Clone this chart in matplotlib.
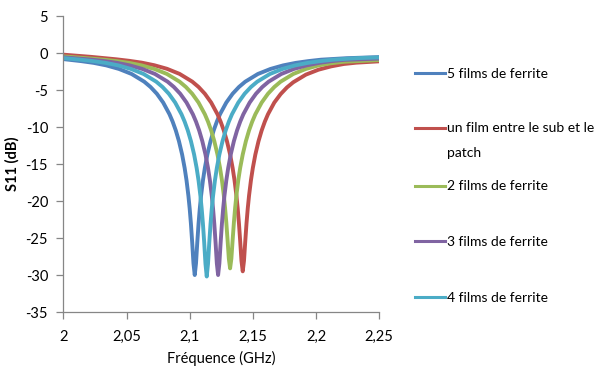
import matplotlib
matplotlib.use("Agg")
import matplotlib.pyplot as plt
from matplotlib.lines import Line2D

plt.rcParams['axes.unicode_minus'] = False
plt.rcParams['font.family'] = ['Lato', 'DejaVu Sans']

# series (frequency in GHz, S11 in dB)
f_5films = [2.000, 2.014, 2.024, 2.034, 2.044, 2.054, 2.064, 2.069, 2.074, 2.079, 2.084, 2.0865,
            2.089, 2.0915, 2.094, 2.096, 2.0975, 2.099, 2.100, 2.101, 2.102, 2.103, 2.104,
            2.105, 2.106, 2.107, 2.108, 2.109, 2.1105, 2.112, 2.114, 2.1165, 2.119, 2.1215,
            2.124, 2.129, 2.134, 2.139, 2.144, 2.154, 2.164, 2.174, 2.184, 2.194, 2.204, 2.224, 2.250]
s_5films = [-0.82, -1.09, -1.33, -1.67, -2.15, -2.83, -3.87, -4.59, -5.50, -6.69, -8.27, -9.27,
            -10.46, -11.91, -13.71, -15.53, -17.21, -19.31, -21.03, -23.11, -25.63, -28.43, -30.0,
            -28.43, -25.63, -23.11, -21.03, -19.31, -17.21, -15.53, -13.71, -11.91, -10.46, -9.27,
            -8.27, -6.69, -5.50, -4.59, -3.87, -2.83, -2.15, -1.67, -1.33, -1.09, -0.90, -0.70, -0.55]

f_1film = [2.000, 2.022, 2.042, 2.052, 2.062, 2.072, 2.082, 2.092, 2.102, 2.107, 2.112, 2.117,
           2.122, 2.1245, 2.127, 2.1295, 2.132, 2.134, 2.1355, 2.137, 2.138, 2.139, 2.140, 2.141,
           2.142, 2.143, 2.144, 2.145, 2.146, 2.147, 2.1485, 2.150, 2.152, 2.1545, 2.157, 2.1595,
           2.162, 2.167, 2.172, 2.177, 2.182, 2.192, 2.202, 2.212, 2.222, 2.232, 2.250]
s_1film = [-0.22, -0.52, -0.85, -1.05, -1.30, -1.65, -2.13, -2.82, -3.86, -4.58, -5.50, -6.69,
           -8.27, -9.27, -10.46, -11.91, -13.71, -15.53, -17.2, -19.27, -20.96, -23.0, -25.45, -28.08,
           -29.5, -28.08, -25.45, -23.0, -20.96, -19.27, -17.2, -15.53, -13.71, -11.91, -10.46, -9.27,
           -8.27, -6.69, -5.55, -4.65, -3.95, -2.92, -2.25, -1.80, -1.48, -1.30, -1.12]

f_2films = [2.000, 2.022, 2.032, 2.042, 2.052, 2.062, 2.072, 2.082, 2.092, 2.097, 2.102, 2.107,
            2.112, 2.1145, 2.117, 2.1195, 2.122, 2.124, 2.1255, 2.127, 2.128, 2.129, 2.130, 2.131,
            2.132, 2.133, 2.134, 2.135, 2.136, 2.137, 2.1385, 2.140, 2.142, 2.1445, 2.147, 2.1495,
            2.152, 2.157, 2.162, 2.167, 2.172, 2.182, 2.192, 2.202, 2.212, 2.222, 2.250]
s_2films = [-0.45, -0.75, -0.90, -1.09, -1.33, -1.67, -2.15, -2.83, -3.87, -4.59, -5.50, -6.69,
            -8.27, -9.27, -10.46, -11.91, -13.71, -15.5, -17.15, -19.22, -20.91, -22.91, -25.29, -27.79,
            -29.1, -27.79, -25.29, -22.91, -20.91, -19.22, -17.15, -15.5, -13.71, -11.91, -10.46, -9.27,
            -8.27, -6.69, -5.50, -4.59, -3.87, -2.83, -2.15, -1.67, -1.38, -1.18, -0.95]

f_3films = [2.000, 2.0225, 2.0325, 2.0425, 2.0525, 2.0625, 2.0725, 2.0825, 2.0875, 2.0925, 2.0975,
            2.1025, 2.105, 2.1075, 2.110, 2.1125, 2.1145, 2.116, 2.1175, 2.1185, 2.1195, 2.1205,
            2.1215, 2.1225, 2.1235, 2.1245, 2.1255, 2.1265, 2.1275, 2.129, 2.1305, 2.1325, 2.135,
            2.1375, 2.140, 2.1425, 2.1475, 2.1525, 2.1575, 2.1625, 2.1725, 2.1825, 2.1925, 2.2025,
            2.2125, 2.2225, 2.250]
s_3films = [-0.58, -0.90, -1.09, -1.33, -1.67, -2.15, -2.83, -3.87, -4.59, -5.50, -6.69,
            -8.27, -9.27, -10.46, -11.91, -13.71, -15.53, -17.21, -19.31, -21.03, -23.11, -25.63,
            -28.43, -30.0, -28.43, -25.63, -23.11, -21.03, -19.31, -17.21, -15.53, -13.71, -11.91,
            -10.46, -9.27, -8.27, -6.69, -5.50, -4.59, -3.87, -2.83, -2.15, -1.67, -1.33,
            -1.09, -0.92, -0.75]

f_4films = [2.000, 2.0135, 2.0235, 2.0335, 2.0435, 2.0535, 2.0635, 2.0735, 2.0785, 2.0835, 2.0885,
            2.0935, 2.096, 2.0985, 2.101, 2.1035, 2.1055, 2.107, 2.1085, 2.1095, 2.1105, 2.1115,
            2.1125, 2.1135, 2.1145, 2.1155, 2.1165, 2.1175, 2.1185, 2.120, 2.1215, 2.1235, 2.126,
            2.1285, 2.131, 2.1335, 2.1385, 2.1435, 2.1485, 2.1535, 2.1635, 2.1735, 2.1835, 2.1935,
            2.2035, 2.2135, 2.2335, 2.250]
s_4films = [-0.68, -0.90, -1.09, -1.33, -1.67, -2.15, -2.83, -3.87, -4.59, -5.50, -6.69,
            -8.27, -9.27, -10.46, -11.91, -13.71, -15.53, -17.21, -19.31, -21.03, -23.11, -25.63,
            -28.5, -30.2, -28.5, -25.63, -23.11, -21.03, -19.31, -17.21, -15.53, -13.71, -11.91,
            -10.46, -9.27, -8.27, -6.69, -5.50, -4.59, -3.87, -2.83, -2.15, -1.67, -1.33,
            -1.09, -0.90, -0.68, -0.60]

labels = ["5 films de ferrite", "un film entre le sub et le\npatch", "2 films de ferrite",
          "3 films de ferrite", "4 films de ferrite"]
colors = ["#4F81BD", "#C0504D", "#9BBB59", "#8064A2", "#4BACC6"]
series = [(f_5films, s_5films), (f_1film, s_1film), (f_2films, s_2films),
          (f_3films, s_3films), (f_4films, s_4films)]

x_ticks = [2.0, 2.05, 2.1, 2.15, 2.2, 2.25]
x_ticklabels = ["2", "2,05", "2,1", "2,15", "2,2", "2,25"]
y_ticks = [5, 0, -5, -10, -15, -20, -25, -30, -35]

fig = plt.figure(figsize=(5.98, 3.73), dpi=100)
ax = fig.add_axes([0.106, 0.1635, 0.528, 0.7935])

for (f, s), c in zip(series, colors):
    ax.plot(f, s, color=c, lw=2.8, solid_capstyle='round', solid_joinstyle='round')

ax.set_xlim(2.0, 2.25)
ax.set_ylim(-35, 5)
ax.set_xticks(x_ticks)
ax.set_xticklabels(x_ticklabels)
ax.set_yticks(y_ticks)
ax.set_yticklabels([str(v) for v in y_ticks])

for side in ["top", "right"]:
    ax.spines[side].set_visible(False)
for side in ["left", "bottom"]:
    ax.spines[side].set_color("#868686")
    ax.spines[side].set_linewidth(0.9)
ax.tick_params(direction="out", length=5, width=0.9, color="#868686", labelsize=10.5)
ax.tick_params(axis="x", pad=8)
ax.tick_params(axis="y", pad=6)

ax.set_xlabel("Fréquence (GHz)", fontsize=10.5, labelpad=5)
ax.set_ylabel("S11 (dB)", fontsize=10.5, fontweight="bold", labelpad=4)

# legend drawn by hand, like the Excel one (handle level with the first text line)
leg_y = [73, 128, 186, 241, 297]
H = 373.0
W = 598.0
for lab, c, yy in zip(labels, colors, leg_y):
    y = 1 - yy / H
    fig.add_artist(Line2D([415 / W, 445 / W], [y, y], color=c, lw=2.2))
    for i, part in enumerate(lab.split("\n")):
        fig.text(447 / W, 1 - (yy + 4.5 + 25 * i) / H, part, fontsize=10,
                 va="baseline", ha="left")

fig.savefig("out.png", dpi=100)
